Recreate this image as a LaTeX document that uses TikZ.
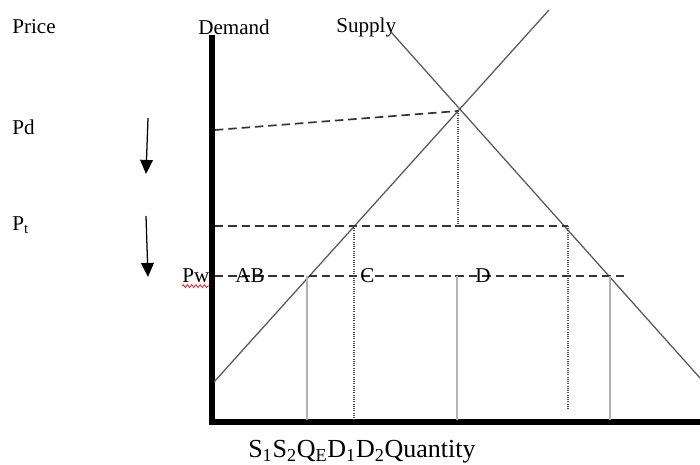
\documentclass[tikz,border=0pt]{standalone}
\usepackage{fontspec}
\setmainfont{Liberation Serif}
\usetikzlibrary{arrows.meta,positioning,decorations.pathmorphing}

\begin{document}
\begin{tikzpicture}[
    x=0.025cm, y=-0.025cm,
    lbl/.style={font=\fontsize{15}{18}\selectfont, inner sep=0pt, anchor=west},
    axisline/.style={line width=3.6pt},
    curve/.style={draw=black!65, line width=0.9pt},
    pline/.style={dash pattern=on 6pt off 3.5pt, line width=1.2pt, color=black!80},
    guide/.style={dash pattern=on 0.7pt off 0.9pt, line width=1pt, color=black!70},
    qline/.style={draw=black!30, line width=1.1pt},
    move/.style={-{Triangle[length=10pt,width=9pt]}, line width=0.9pt}
  ]
    \useasboundingbox (0,0) rectangle (700,465);

    % axes
    \coordinate (top)  at (212,35);
    \coordinate (orig) at (212,422);
    \coordinate (xend) at (700,422);
    \draw[axisline] (top) -- (orig) -- (xend);

    % the two curves
    \coordinate (s0) at (214,382);
    \coordinate (s1) at (549,10);
    \coordinate (d0) at (391,32);
    \coordinate (d1) at (700,378);
    \draw[curve] (s0) -- (s1);
    \draw[curve] (d0) -- (d1);

    % price levels
    \coordinate (eq)  at (458,111);
    \coordinate (pd0) at (215,130);
    \coordinate (pt0) at (215,226);
    \coordinate (pt1) at (568,226);
    \coordinate (pw0) at (215,276);
    \coordinate (pw1) at (625,276);
    \draw[pline] (pd0) -- (eq);
    \draw[pline] (pt0) -- (pt1);
    \draw[pline] (pw0) -- (pw1);

    % quantities
    \coordinate (qe)  at (458,226);
    \coordinate (s2t) at (354,226);
    \coordinate (s2b) at (354,420);
    \coordinate (d2b) at (568,410);
    \draw[guide] (eq) -- (qe);
    \draw[guide] (s2t) -- (s2b);
    \draw[guide] (pt1) -- (d2b);

    \coordinate (s1t) at (307,276);
    \coordinate (s1b) at (307,420);
    \coordinate (qet) at (457,276);
    \coordinate (qeb) at (457,420);
    \coordinate (d1t) at (610,276);
    \coordinate (d1b) at (610,420);
    \draw[qline] (s1t) -- (s1b);
    \draw[qline] (qet) -- (qeb);
    \draw[qline] (d1t) -- (d1b);

    % falling price
    \coordinate (a1) at (148,118);
    \coordinate (a2) at (146,174);
    \coordinate (b1) at (146,216);
    \coordinate (b2) at (148,277);
    \draw[move] (a1) -- (a2);
    \draw[move] (b1) -- (b2);

    % labels
    \node[lbl] (price)  at (12,27)  {Price};
    \node[lbl] (demand) at (198,27) {Demand};
    \node[lbl] (supply) at (336,27) {Supply};
    \node[lbl] (pd)     at (12,127) {Pd};
    \node[lbl] (pt)     at (12,225) {P\textsubscript{t}};
    \node[lbl] (pw)     at (182,276) {Pw};
    \node[lbl] (ab)     at (235,276) {AB};
    \node[lbl] (c)      at (360,276) {C};
    \node[lbl] (d)      at (475,276) {D};
    \node[lbl, font=\fontsize{18.5}{21}\selectfont] (qty) at (248,452)
      {S\textsubscript{1}S\textsubscript{2}Q\textsubscript{E}D\textsubscript{1}D\textsubscript{2}Quantity};

    \draw[red, line width=0.5pt, decorate,
          decoration={snake, amplitude=1pt, segment length=3pt}]
      ([yshift=-2pt]pw.south west) -- ([yshift=-2pt]pw.south east);
\end{tikzpicture}
\end{document}
